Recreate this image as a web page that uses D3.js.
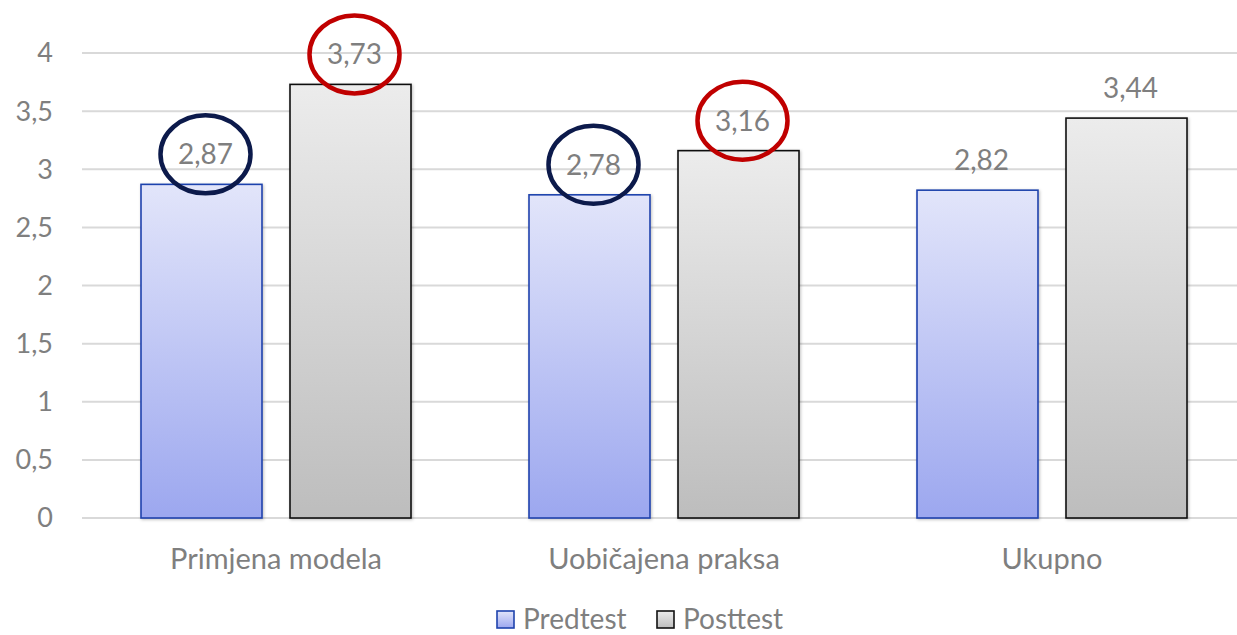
<!DOCTYPE html>
<html>
<head>
<meta charset="utf-8">
<script src="https://cdn.jsdelivr.net/npm/d3@7"></script>
<style>
  body { margin: 0; background: #fff; }
  svg { display: block; font-family: Lato, "Open Sans", sans-serif; }
</style>
</head>
<body>
<div class="graph"></div>
<script>
// chart data
const categories = ['Primjena modela', 'Uobičajena praksa', 'Ukupno'];
const seriesNames = ['Predtest', 'Posttest'];
const predtest = [2.87, 2.78, 2.82];
const posttest = [3.73, 3.16, 3.44];
const yTicks = [0, 0.5, 1, 1.5, 2, 2.5, 3, 3.5, 4];
// which value labels got circled: [category index, series index, colour]
const circled = [[0, 0, '#0c1a4b'], [0, 1, '#c00000'], [1, 0, '#0c1a4b'], [1, 1, '#c00000']];

const fmt = d => String(d).replace('.', ',');

// dimensions
var margin = {top: 53, right: -9, bottom: 117, left: 82},
    W = 1237, H = 635,
    width = W - margin.left - margin.right,
    height = H - margin.top - margin.bottom;

var svg = d3.select('.graph').append('svg')
    .attr('width', W)
    .attr('height', H);

// gradients for the bars
var defs = svg.append('defs');
function grad(id, top, bottom) {
  var g = defs.append('linearGradient').attr('id', id)
    .attr('x1', 0).attr('y1', 0).attr('x2', 0).attr('y2', 1);
  g.append('stop').attr('offset', '0%').attr('stop-color', top);
  g.append('stop').attr('offset', '100%').attr('stop-color', bottom);
}
grad('g0', '#e2e5fa', '#9ca7ef');
grad('g1', '#ececec', '#bdbdbd');
var shadow = defs.append('filter').attr('id', 'sh')
  .attr('x', '-10%').attr('y', '-10%').attr('width', '130%').attr('height', '130%');
shadow.append('feDropShadow').attr('dx', 1).attr('dy', 1).attr('stdDeviation', 1.5)
  .attr('flood-color', '#000').attr('flood-opacity', 0.25);

var g = svg.append('g')
  .attr('transform', 'translate(' + margin.left + ',' + margin.top + ')');

var x0 = d3.scaleBand()
  .domain(categories)
  .range([0, width])
  .paddingInner(0)
  .paddingOuter(0);

var x1 = d3.scaleBand()
  .domain(seriesNames)
  .range([59, x0.bandwidth() - 59])
  .paddingInner(0.188);

var y = d3.scaleLinear()
  .domain([0, 4])
  .range([height, 0]);

// gridlines
g.selectAll('.grid')
  .data(yTicks)
  .enter().append('line')
  .attr('x1', 0).attr('x2', width)
  .attr('y1', d => y(d)).attr('y2', d => y(d))
  .attr('stroke', '#d9d9d9')
  .attr('stroke-width', 2);

// y tick labels
g.selectAll('.ytick')
  .data(yTicks)
  .enter().append('text')
  .attr('x', -29)
  .attr('y', d => y(d))
  .attr('dy', '0.35em')
  .attr('text-anchor', 'end')
  .attr('fill', '#7f7f7f')
  .style('font-size', '27px')
  .text(fmt);

var seriesData = [predtest, posttest];
var strokes = ['#1f43ad', '#111'];

for (var s = 0; s < seriesNames.length; s++) {
  var vals = seriesData[s];
  var bars = g.selectAll('.bar' + s)
    .data(vals)
    .enter();

  bars.append('rect')
    .attr('x', (d, i) => x0(categories[i]) + x1(seriesNames[s]))
    .attr('y', d => y(d))
    .attr('width', x1.bandwidth())
    .attr('height', d => height - y(d))
    .attr('fill', 'url(#g' + s + ')')
    .attr('stroke', strokes[s])
    .attr('stroke-width', 1.6)
    .attr('filter', 'url(#sh)');

  bars.append('text')
    .attr('x', (d, i) => x0(categories[i]) + x1(seriesNames[s]) + x1.bandwidth() / 2 + 4)
    .attr('y', d => y(d) - 20)
    .attr('text-anchor', 'middle')
    .attr('fill', '#7f7f7f')
    .style('font-size', '28px')
    .text(fmt);
}

// hand-drawn style circles round selected labels
g.selectAll('.ring')
  .data(circled)
  .enter().append('ellipse')
  .attr('cx', d => x0(categories[d[0]]) + x1(seriesNames[d[1]]) + x1.bandwidth() / 2 + 4)
  .attr('cy', d => y(seriesData[d[1]][d[0]]) - 30)
  .attr('rx', 45)
  .attr('ry', 39)
  .attr('fill', 'none')
  .attr('stroke', d => d[2])
  .attr('stroke-width', 4.5);

// category labels
g.selectAll('.cat')
  .data(categories)
  .enter().append('text')
  .attr('x', d => x0(d) + x0.bandwidth() / 2)
  .attr('y', height + 51)
  .attr('text-anchor', 'middle')
  .attr('fill', '#7f7f7f')
  .style('font-size', '29px')
  .text(d => d);

// legend
var legendX = [497, 657];
var legend = svg.selectAll('.legend')
  .data(seriesNames)
  .enter().append('g')
  .attr('transform', (d, i) => 'translate(' + legendX[i] + ',611)');

legend.append('rect')
  .attr('width', 17).attr('height', 17)
  .attr('fill', (d, i) => 'url(#g' + i + ')')
  .attr('stroke', (d, i) => strokes[i])
  .attr('stroke-width', 1.6);

legend.append('text')
  .attr('x', 26)
  .attr('y', 18)
  .attr('fill', '#7f7f7f')
  .style('font-size', '28px')
  .text(d => d);
</script>
</body>
</html>
